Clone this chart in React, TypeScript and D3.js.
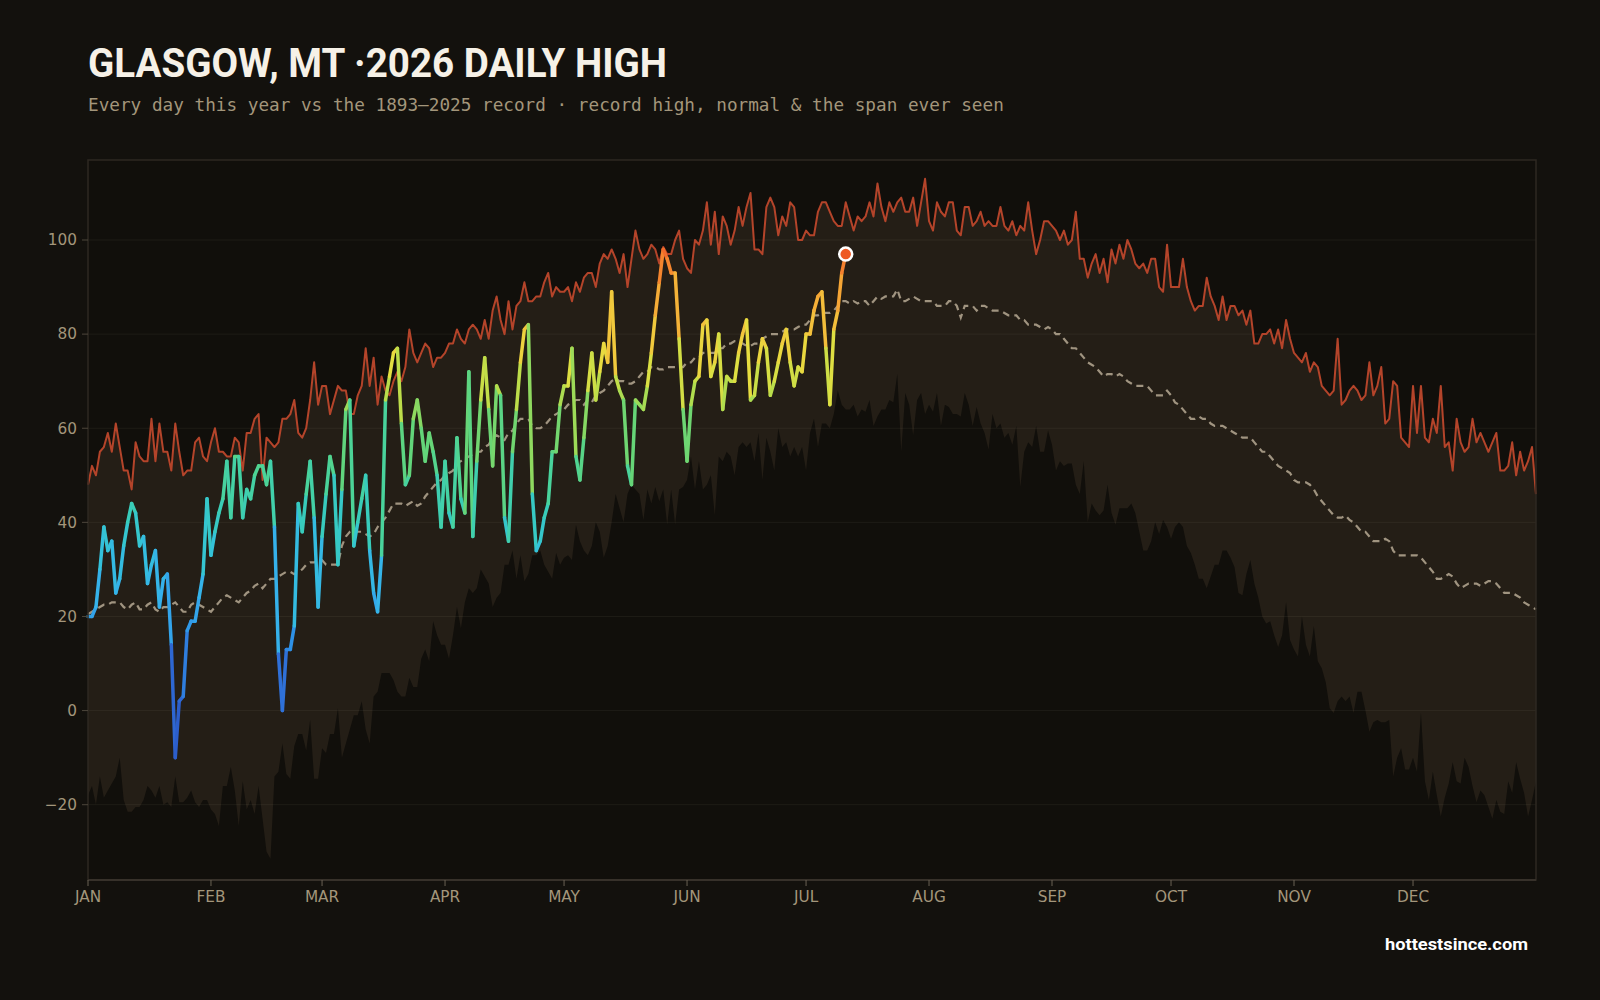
import React from 'react';
import * as d3 from 'd3';

// Day-of-year series (day 0 = Jan 1). Records cover 1893–2025.
const recordHigh = [
  48, 52, 50, 55, 56, 59, 55, 61, 56, 51, 51, 47, 57, 54, 53, 53, 62, 53, 61, 55,
  55, 51, 61, 55, 50, 51, 51, 57, 58, 54, 53, 57, 60, 55, 55, 54, 54, 58, 57, 51,
  59, 59, 62, 63, 49, 58, 57, 56, 57, 62, 62, 63, 66, 59, 58, 60, 66, 74, 65, 69,
  69, 63, 66, 69,
  68, 68, 63, 63, 67, 69, 77, 69, 75, 65, 71, 68, 67, 70, 72, 70, 73, 81, 76, 74,
  76, 78, 77, 73, 75, 75, 76, 78, 78, 81, 79, 78, 81, 82, 81, 79, 83, 79, 85, 88,
  83, 80, 87, 81, 86, 87, 91, 87, 87, 88, 88, 91, 93, 88, 90, 89, 89, 90, 87, 91,
  89, 92, 93,
  93, 90, 95, 97, 96, 98, 96, 93, 97, 90, 96, 102, 98, 96, 97, 99, 98, 95, 98.5, 97,
  97, 100, 102, 96, 94, 93, 100, 99, 102, 108, 99, 106, 97, 105, 103, 99, 102, 107, 103, 107,
  110, 98, 98, 97, 107, 109, 107, 101, 105, 103, 108, 107, 100, 100, 102, 101, 101, 106, 108, 108,
  106, 104, 103,
  103, 108, 105, 102, 105, 104, 105, 108, 105, 112, 107, 104, 108, 106, 108, 109, 106, 106, 109, 103,
  108, 113, 104, 102, 108, 106, 105, 108, 108, 102, 101, 107, 107, 103, 104, 106, 103, 104, 103, 103,
  107, 103, 102, 104, 101, 103, 102, 108, 102, 97, 100, 104, 104, 103, 102, 100, 102, 99, 100, 106,
  96, 96, 92,
  95, 97, 93, 96, 91, 98, 95, 99, 96, 100, 98, 95, 94, 95, 93, 96, 96, 90, 89, 99,
  90, 90, 90, 96, 90, 87, 85, 86, 86, 92, 88, 86, 83, 88, 83, 86, 86, 84, 85, 82,
  85, 78, 78, 80, 80, 81, 78, 81, 77, 83, 79, 76, 75, 74, 76, 72, 74, 73, 69, 68,
  67, 68, 79,
  65, 66, 68, 69, 68, 66, 67, 74, 67, 69, 73, 61, 62, 70, 69, 58, 57, 56, 69, 59,
  69, 58, 57, 62, 59, 69, 56, 57, 51, 62, 57, 55, 56, 62, 57, 59, 57, 55, 57, 59,
  51, 51, 52, 57, 50, 55, 51, 53, 56, 46,
];

const recordLow = [
  -18, -16, -20, -14, -18.5, -17, -15.5, -14, -10, -19, -21.5, -21.5, -20.5, -20.5, -19, -16, -17, -18.5, -16, -20,
  -19.5, -20.5, -14, -19.5, -19.5, -18.5, -17, -19.5, -20.5, -19, -19, -21, -22, -24.5, -16, -16, -12, -17, -24.5, -15,
  -21, -19, -22, -16, -23, -30, -31.5, -14, -13, -7, -13.5, -14.5, -7.5, -5, -5, -8.5, -2, -14.5, -14.5, -8,
  -9, -5, -5, 0.5,
  -10, -7, -4, -1, -1, 2, -4, -7, 3, 4, 8, 8, 8, 6.5, 4, 3, 3, 7, 5, 5,
  11, 13, 10.5, 19, 16, 14, 14, 11, 16, 22, 17.5, 23, 26, 25, 26, 30, 28.5, 27, 22, 24,
  25, 31, 31, 34, 28, 33, 27.5, 29, 33, 33, 34, 31, 29.5, 28, 33.5, 31, 32.5, 33, 32, 39.5,
  36, 34, 33,
  35, 40, 38, 32.5, 35, 40, 46, 43, 40, 46, 48, 47, 46, 40.5, 47, 44, 47.5, 44.5, 47, 39.5,
  47, 39.5, 47, 47.5, 49, 54, 47, 53, 47, 48, 50, 41.5, 54, 53, 55, 54, 50, 56, 57, 56,
  57, 53, 59, 49, 58, 55, 51, 60, 56, 57, 54, 56, 54, 56, 51, 59, 62, 56, 61, 61,
  60, 63, 68,
  65, 64, 64, 65, 62.5, 64, 63.5, 66, 60.5, 62.5, 64, 64, 66, 65.5, 71.5, 55, 67.5, 65, 58.5, 66,
  67.5, 63, 65, 63.5, 67.5, 60.5, 65, 64.5, 63, 63, 62.5, 67.5, 65, 60.5, 64.5, 61, 59, 55.5, 63, 60,
  61, 58, 59, 56.5, 60.5, 47.5, 55, 57, 56, 60.5, 55, 55, 59.5, 56.5, 51, 53, 52, 52.5, 52.5, 48,
  46, 53, 40,
  44, 42.5, 41.5, 42.5, 48, 42, 39.5, 43, 43, 43, 44, 42, 38, 34, 34, 36, 40, 37.5, 40.5, 39,
  36.5, 39, 40, 39, 35, 33.5, 31, 28, 28, 26, 28.5, 31, 31, 34, 34, 32.5, 30.5, 25, 24.5, 29,
  32, 27, 24, 20, 18.5, 19, 16, 13.5, 16, 23, 15, 13, 11.5, 20, 14, 11.5, 18, 10.5, 9, 6,
  0.5, -0.5, 2,
  3, 2, 3, -0.5, 4, 4, 0, -4.5, -2.5, -2, -2.5, -2.5, -2, -14, -10, -8, -12.5, -12.5, -10, -13,
  -0.5, -15, -19, -13, -18, -22.5, -18.5, -15.5, -11, -15, -15.5, -10, -12, -16, -19.5, -17, -18, -20.5, -23, -19,
  -21.5, -22, -15, -17.5, -11, -14.5, -17.5, -22.5, -19, -15,
];

const normalHigh = [
  20.5, 21, 21.5, 22, 22.5, 22.5, 23, 23, 23, 22, 21.5, 22.5, 23, 21.5, 21.5, 22.5, 23, 21.5, 21, 22,
  22, 22.5, 23, 22, 21, 21, 22.5, 23, 22.5, 22, 21.5, 21, 22, 23, 24, 24.5, 24, 23.5, 23, 24,
  25, 25.5, 26.5, 27, 26, 27, 28, 28, 28.5, 29, 29.5, 29.5, 29, 29.5, 30, 31, 31.5, 31.5, 32, 32,
  31, 31, 31, 31,
  35, 37, 38, 38.5, 38, 38, 37.5, 37, 37.5, 39, 40, 41, 42.5, 44, 44, 44, 43.5, 44, 44.5, 43.5,
  44, 45.5, 46.5, 47.5, 48.5, 49, 50, 50.5, 51, 52.5, 53, 53.5, 54, 54.5, 55, 55, 56, 56.5, 58, 58.5,
  58, 57.5, 59, 59.5, 61, 62, 62, 62, 60.5, 60, 60, 60.5, 61.5, 62.5, 63, 63.5, 64, 65, 65.5, 66,
  66, 65, 66,
  65.5, 67, 67.5, 68, 69, 70, 70.5, 70, 70, 69.5, 69.5, 70, 71, 72, 72, 73, 73, 72.5, 72.5, 73,
  73, 73, 73, 73, 74, 74, 75, 75, 76, 76, 76, 76, 77, 77, 78, 78, 78.5, 78.5, 78, 77.5,
  77.5, 78, 78, 79, 79.5, 80, 80, 80, 80.5, 81, 81, 81, 81.5, 82, 82, 83, 84, 84, 84.5, 84.5,
  84.5, 85, 86,
  87, 87, 86.5, 87, 86.5, 87, 87, 86, 87, 88, 87.5, 88, 88, 88, 89.5, 87, 87, 87.5, 88, 87.5,
  87, 87, 87, 87, 86, 86, 86, 87, 87, 86, 83.5, 86, 86, 86, 85, 86, 86, 85.5, 85, 85,
  85, 84.5, 84, 84, 84, 83, 83, 82, 82, 82, 81.5, 81, 81.5, 81, 80, 80, 79, 78, 77, 77,
  76, 75, 74,
  73.5, 73, 72, 71, 71.5, 71.5, 71, 71.5, 71, 70, 69.5, 69, 69, 69, 69, 68, 67, 67, 67, 68,
  67, 65.5, 65, 64, 63, 62, 62, 62.5, 62, 62, 61, 60.5, 60.5, 60.5, 60, 59.5, 59, 58.5, 58, 58,
  58, 57, 56, 55, 55, 54, 53, 52, 51.5, 51, 50.5, 49, 48.5, 48.5, 48.5, 48, 47, 45.5, 44.5, 43.5,
  42.5, 41.5, 41,
  41, 41.5, 40.5, 40, 39, 38, 38, 37, 36, 36, 36, 36.5, 36, 34, 33, 33, 33, 33, 33, 33,
  32.5, 31.5, 30.5, 29.5, 28, 28, 28.5, 29, 28.5, 27, 26, 26.5, 27, 27, 27, 26.5, 27, 27.5, 27.5, 27,
  26, 25, 25, 25, 24.5, 24, 23, 22.5, 22, 21.5,
];

// 2026 observed daily highs, Jan 1 onward
const thisYear = [
  20, 20, 22, 30, 39, 34, 36, 25, 28, 35, 40, 44, 42, 35, 37, 27, 31, 34, 22, 28,
  29, 14, -10, 2, 3, 17, 19, 19, 24, 29, 45, 33, 38, 42, 45, 53, 41, 54, 54, 41,
  47, 45, 50, 52, 52, 48, 53, 39, 12, 0, 13, 13, 18, 44, 38, 46, 53, 41, 22, 37,
  46, 54, 50, 31,
  47, 64, 66, 35, 40, 45, 50, 34, 25, 21, 33, 66, 71, 76, 77, 61, 48, 50, 62, 66,
  60, 53, 59, 55, 50, 39, 53, 42, 39, 58, 45, 42, 72, 37, 53, 66, 75, 64, 52, 69,
  67, 41, 36, 55, 64, 74, 81, 82, 46, 34, 36, 41, 44, 55, 55, 65, 69, 69, 77, 54,
  49, 58, 68,
  76, 66, 72, 78, 74, 89, 71, 68, 66, 52, 48, 66, 65, 64, 69, 76, 84, 91, 98, 96,
  93, 93, 79, 64, 53, 65, 70, 71, 82, 83, 71, 74, 80, 64, 71, 70, 70, 76, 80, 83,
  66, 67, 74, 79, 77, 67, 70, 74, 78, 81, 74, 69, 73, 72, 80, 80, 85, 88, 89, 77,
  65, 81, 85, 93, 97,
];

const monthStarts = [0, 31, 59, 90, 120, 151, 181, 212, 243, 273, 304, 334];
const monthNames = ['JAN', 'FEB', 'MAR', 'APR', 'MAY', 'JUN', 'JUL', 'AUG', 'SEP', 'OCT', 'NOV', 'DEC'];
const yTicks = [-20, 0, 20, 40, 60, 80, 100];

// colour ramp for the daily line (°F → colour)
const rampTemps = [-10, 5, 15, 25, 35, 42, 50, 56, 62, 68, 74, 82, 88, 94, 98];
const rampColors = [
  '#2a55c4', '#2f6cd6', '#2e8fe6', '#35b0ec', '#34c2da', '#38ccbb', '#4ad39a',
  '#62d57a', '#7cd768', '#b5dd4c', '#e6df40', '#f3c23c', '#f5aa36', '#f58a2f', '#f0602a',
];

const W = 1600;
const H = 1000;
const plot = { left: 88, right: 1536, top: 160, bottom: 880 };

const BG = '#13110d';
const TAN = '#a3967b';
const sansFont = "'DejaVu Sans', sans-serif";
const headFont = "Roboto, 'Noto Sans', sans-serif";

export default function App() {
  const x = d3.scaleLinear().domain([0, 365]).range([plot.left, plot.right]);
  const y = d3.scaleLinear().domain([-36, 117]).range([plot.bottom, plot.top]);

  const tempColor = d3.scaleLinear<string>().domain(rampTemps).range(rampColors).clamp(true);

  const band = d3
    .area<number>()
    .x((_, i) => x(i))
    .y0((_, i) => y(recordLow[i]))
    .y1((d) => y(d));

  const line = d3
    .line<number>()
    .x((_, i) => x(i))
    .y((d) => y(d));

  const segLine = d3
    .line<[number, number]>()
    .x((d) => x(d[0]))
    .y((d) => y(d[1]));

  // one short path per day pair so each piece gets its own colour
  const segments = thisYear.slice(1).map((v, i) => {
    const a = thisYear[i];
    return {
      d: segLine([
        [i, a],
        [i + 1, v],
      ]),
      color: tempColor((a + v) / 2),
    };
  });

  const lastIdx = thisYear.length - 1;
  const lastVal = thisYear[lastIdx];

  return (
    <div style={{ position: 'fixed', left: 0, top: 0, width: W, height: H, background: BG }}>
      <svg width={W} height={H} style={{ display: 'block' }}>
        <rect width={W} height={H} fill={BG} />

        <text
          x={88}
          y={77}
          fill="#f6f1e7"
          fontFamily={headFont}
          fontWeight={700}
          fontSize={41}
          textLength={579}
          lengthAdjust="spacingAndGlyphs"
        >
          GLASGOW, MT ·2026 DAILY HIGH
        </text>
        <text x={88} y={111} fill={TAN} fontFamily="'DejaVu Sans Mono', monospace" fontSize={17.7}>
          Every day this year vs the 1893–2025 record · record high, normal &amp; the span ever seen
        </text>

        {/* plot background */}
        <rect
          x={plot.left}
          y={plot.top}
          width={plot.right - plot.left}
          height={plot.bottom - plot.top}
          fill="#110f0b"
        />

        {/* span of every recorded high, record low to record high */}
        <path d={band(recordHigh) || ''} fill="#241e16" />

        {/* gridlines */}
        {yTicks.map((t) => (
          <line
            key={t}
            x1={plot.left}
            x2={plot.right}
            y1={y(t)}
            y2={y(t)}
            stroke="#f3e6cf"
            strokeOpacity={0.06}
            strokeWidth={1}
          />
        ))}

        {/* normal */}
        <path
          d={line(normalHigh) || ''}
          fill="none"
          stroke="#a09480"
          strokeWidth={2.2}
          strokeDasharray="7 5"
        />

        {/* record high */}
        <path
          d={line(recordHigh) || ''}
          fill="none"
          stroke="#b4442a"
          strokeWidth={2}
          strokeLinejoin="round"
        />

        {/* this year, coloured by temperature */}
        {segments.map((s, i) => (
          <path
            key={i}
            d={s.d || ''}
            fill="none"
            stroke={s.color}
            strokeWidth={3.5}
            strokeLinecap="round"
          />
        ))}

        <circle cx={x(lastIdx)} cy={y(lastVal)} r={6.5} fill="#ee5a24" stroke="#ffffff" strokeWidth={2.5} />

        {/* frame */}
        <rect
          x={plot.left}
          y={plot.top}
          width={plot.right - plot.left}
          height={plot.bottom - plot.top}
          fill="none"
          stroke="#2e2922"
          strokeWidth={1.5}
        />
        <line x1={plot.left} x2={plot.right} y1={plot.bottom} y2={plot.bottom} stroke="#37312a" strokeWidth={2} />

        {/* y axis */}
        {yTicks.map((t) => (
          <g key={t} transform={`translate(0,${y(t)})`}>
            <line x1={plot.left - 6} x2={plot.left} stroke="#4d463b" strokeWidth={1} />
            <text
              x={plot.left - 11}
              dy="0.35em"
              textAnchor="end"
              fill={TAN}
              fontFamily={sansFont}
              fontSize={15.3}
            >
              {t < 0 ? `−${Math.abs(t)}` : t}
            </text>
          </g>
        ))}

        {/* x axis */}
        {monthStarts.map((d, i) => (
          <g key={d} transform={`translate(${x(d)},${plot.bottom})`}>
            <line y1={0} y2={6} stroke="#6a6254" strokeWidth={1} />
            <text y={21.5} textAnchor="middle" fill={TAN} fontFamily={sansFont} fontSize={15.3}>
              {monthNames[i]}
            </text>
          </g>
        ))}

        <text
          x={1528}
          y={950}
          textAnchor="end"
          fill="#ffffff"
          fontFamily={headFont}
          fontWeight={700}
          fontSize={17}
          textLength={143}
          lengthAdjust="spacingAndGlyphs"
        >
          hottestsince.com
        </text>
      </svg>
    </div>
  );
}
